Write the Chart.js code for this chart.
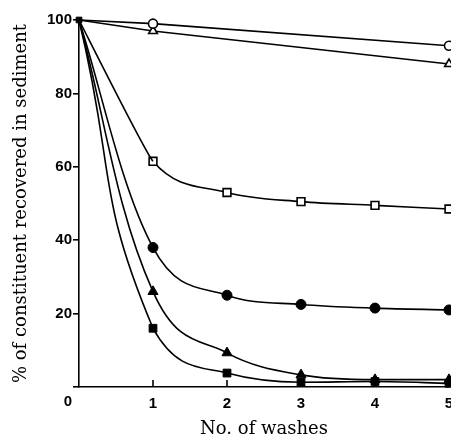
<!DOCTYPE html>
<html>
<head>
<meta charset="utf-8">
<script src="https://cdn.jsdelivr.net/npm/chart.js@4"></script>
<style>
html,body{margin:0;padding:0;background:#fff;overflow:hidden;}
canvas{display:block;}
</style>
</head>
<body>
<canvas id="c" width="451" height="440"></canvas>
<script>
const washes = [0, 1, 2, 3, 4, 5];
const washesSparse = [0, 1, 5];
const openCircle = [100, 99, 93];
const openTriangle = [100, 97, 88];
const openSquare = [100, 61.5, 53, 50.5, 49.5, 48.5];
const filledCircle = [100, 38, 25, 22.5, 21.5, 21];
const filledTriangle = [100, 26, 9.3, 3.3, 2, 2];
const filledSquare = [100, 16, 3.8, 1.3, 1.5, 1];
const yTicks = [0, 20, 40, 60, 80, 100];
const xTicks = [0, 1, 2, 3, 4, 5];
const xTitle = 'No. of washes';
const yTitle = '% of constituent recovered in sediment';

const pts = (xs, ys) => xs.map((x, i) => ({x: x, y: ys[i]}));
const radii = (n, r, r0) => Array.from({length: n}, (_, i) => i === 0 ? r0 : r);
const HIDE = 'rgba(0,0,0,0)';

const base = {borderColor: '#000', borderWidth: 1.6, clip: false, fill: false};

// first segment (0 -> 1) drawn as a bezier curve, the rest hidden
function headCurve(ys, tension) {
  return Object.assign({}, base, {
    data: pts(washes, ys), tension: tension, pointRadius: 0,
    segment: {borderColor: c => c.p0DataIndex >= 1 ? HIDE : undefined}
  });
}
// remaining segments (1 -> 5) as a monotone curve, with markers
function tailCurve(ys, style, r, r0, fillCol) {
  return Object.assign({}, base, {
    data: pts(washes, ys), cubicInterpolationMode: 'monotone',
    segment: {borderColor: c => c.p0DataIndex === 0 ? HIDE : undefined},
    pointStyle: style, pointRadius: radii(6, r, r0),
    pointBackgroundColor: fillCol, pointBorderColor: '#000', pointBorderWidth: fillCol === '#fff' ? 1.6 : 1
  });
}

const datasets = [
  Object.assign({}, base, {data: pts(washesSparse, openCircle), tension: 0,
    pointStyle: 'circle', pointRadius: radii(3, 4.5, 0), pointBackgroundColor: '#fff', pointBorderColor: '#000', pointBorderWidth: 1.6}),
  Object.assign({}, base, {data: pts(washesSparse, openTriangle), tension: 0,
    pointStyle: 'triangle', pointRadius: radii(3, 5, 0), pointBackgroundColor: '#fff', pointBorderColor: '#000', pointBorderWidth: 1.6}),
  headCurve(openSquare, 0.08),
  tailCurve(openSquare, 'rect', 5.5, 0, '#fff'),
  headCurve(filledCircle, 0.3),
  tailCurve(filledCircle, 'circle', 5, 0, '#000'),
  headCurve(filledTriangle, 0.35),
  tailCurve(filledTriangle, 'triangle', 5.8, 0, '#000'),
  headCurve(filledSquare, 0.5),
  tailCurve(filledSquare, 'rect', 5.5, 4, '#000')
];

const extras = {
  id: 'extras',
  afterDraw(chart) {
    const ctx = chart.ctx;
    const xs = chart.scales.x;
    const ca = chart.chartArea;
    ctx.save();
    ctx.strokeStyle = '#000';
    ctx.lineWidth = 1.6;
    xTicks.forEach(v => {
      if (v === 0) return;
      const px = xs.getPixelForValue(v);
      ctx.beginPath();
      ctx.moveTo(px, ca.bottom);
      ctx.lineTo(px, ca.bottom - 7);
      ctx.stroke();
    });
    ctx.fillStyle = '#000';
    ctx.font = 'bold 15px "Liberation Sans"';
    ctx.textAlign = 'center';
    ctx.textBaseline = 'middle';
    ctx.fillText(String(xTicks[0]), ca.left - 11, ca.bottom + 15);
    ctx.restore();
  }
};

new Chart(document.getElementById('c'), {
  type: 'line',
  data: {datasets: datasets},
  plugins: [extras],
  options: {
    responsive: false,
    animation: false,
    devicePixelRatio: 1,
    layout: {autoPadding: false, padding: {top: 20, right: 2, bottom: 0, left: 0}},
    plugins: {legend: {display: false}, tooltip: {enabled: false}},
    scales: {
      x: {
        type: 'linear', min: 0, max: 5,
        afterBuildTicks(s) { s.ticks = xTicks.map(v => ({value: v})); },
        afterFit(s) { s.paddingRight = 0; s.paddingLeft = 0; s.height = 53; },
        grid: {display: true, drawOnChartArea: false, drawTicks: true, tickLength: 8, color: HIDE, lineWidth: 0},
        border: {display: true, color: '#000', width: 1.6},
        ticks: {
          color: '#000', padding: 0,
          font: {family: '"Liberation Sans"', size: 15, weight: 'bold'},
          callback: v => v === 0 ? '' : String(v)
        },
        title: {display: true, text: xTitle, color: '#000',
          font: {family: '"DejaVu Serif"', size: 18}, padding: {top: 4, bottom: 0}}
      },
      y: {
        type: 'linear', min: 0, max: 100,
        afterBuildTicks(s) { s.ticks = yTicks.map(v => ({value: v})); },
        afterFit(s) { s.width = 79; },
        grid: {display: true, drawOnChartArea: false, drawTicks: true, tickLength: 6, color: '#000', lineWidth: 1.6},
        border: {display: true, color: '#000', width: 1.6},
        ticks: {
          color: '#000', padding: 1,
          font: {family: '"Liberation Sans"', size: 15, weight: 'bold'},
          callback: v => v === 0 ? '' : String(v)
        },
        title: {display: true, text: yTitle, color: '#000',
          font: {family: '"DejaVu Serif"', size: 18}, padding: {top: 11, bottom: 0}}
      }
    }
  }
});
</script>
</body>
</html>
